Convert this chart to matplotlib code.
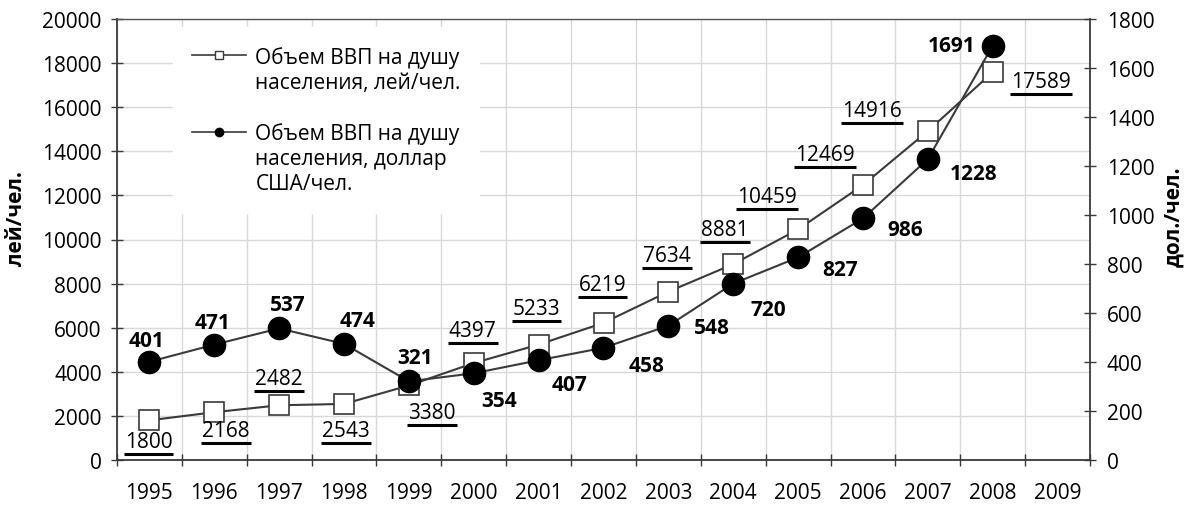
import numpy as np
import matplotlib
matplotlib.use("Agg")
import matplotlib.pyplot as plt
from matplotlib.lines import Line2D

plt.rcParams['font.family'] = ['Open Sans', 'DejaVu Sans']
plt.rcParams['font.size'] = 15

# données
years = ['1995', '1996', '1997', '1998', '1999', '2000', '2001', '2002',
         '2003', '2004', '2005', '2006', '2007', '2008', '2009']
gdp_lei = [1800, 2168, 2482, 2543, 3380, 4397, 5233, 6219, 7634, 8881,
           10459, 12469, 14916, 17589]
gdp_usd = [401, 471, 537, 474, 321, 354, 407, 458, 548, 720, 827, 986,
           1228, 1691]
label_lei = 'Объем ВВП на душу\nнаселения, лей/чел.'
label_usd = 'Объем ВВП на душу\nнаселения, доллар\nСША/чел.'

# décalage des étiquettes (pixels)
off_lei = [(-1, -20), (12, -17), (0, 28), (2, -25), (23, -26), (-1, 34), (-2, 38),
           (-1, 40), (-1, 38), (-8, 36), (-31, 34), (-38, 32), (-56, 22), (48, -8)]
off_usd = [(-3, 23), (-2, 24), (9, 25), (14, 25), (6, 25), (25, -26), (31, -23),
           (43, -16), (44, 0), (35, -24), (42, -11), (42, -10), (46, -13), (-41, 2)]

dark = '#3a3a3a'
fig = plt.figure(figsize=(11.89, 5.06), dpi=100)
ax1 = fig.add_axes([117/1189, 1-461/506, 973/1189, 441/506])
ax2 = ax1.twinx()

x = np.arange(len(gdp_lei))
ax1.plot(x, gdp_lei, color=dark, lw=1.5, marker='s', ms=15, mfc='white',
         mec=dark, mew=1.2, zorder=3)
ax2.plot(x, gdp_usd, color=dark, lw=1.5, marker='o', ms=16, mfc='black',
         mec='black', zorder=3)

ax1.set_xlim(-0.5, len(years) - 0.5)
ax1.set_ylim(0, 20000)
ax2.set_ylim(0, 1800)
ax1.set_yticks(np.arange(0, 20001, 2000))
ax2.set_yticks(np.arange(0, 1801, 200))
ax1.set_xticks(np.arange(len(years)))
ax1.set_xticklabels(years)
ax1.set_xticks(np.arange(-0.5, len(years), 1), minor=True)

ax1.tick_params(axis='x', which='major', length=0, pad=16)
ax1.tick_params(axis='x', which='minor', direction='inout', length=9, width=1, color=dark)
ax1.tick_params(axis='y', direction='inout', length=8, width=1, pad=7, color=dark)
ax2.tick_params(axis='y', direction='inout', length=8, width=1, pad=8, color=dark)

ax1.grid(True, which='major', axis='y', color='#d9d9d9', lw=1)
ax1.grid(True, which='minor', axis='x', color='#d9d9d9', lw=1)
ax1.set_axisbelow(True)

for sp in ['left', 'bottom']:
    ax1.spines[sp].set_color(dark)
    ax1.spines[sp].set_linewidth(1.3)
ax1.spines['top'].set_color('#555555')
ax1.spines['top'].set_linewidth(1)
ax1.spines['right'].set_visible(False)
for sp in ['left', 'top', 'bottom']:
    ax2.spines[sp].set_visible(False)
ax2.spines['right'].set_color(dark)
ax2.spines['right'].set_linewidth(1.3)

fig.text(17/1189, 1-219/506, 'лей/чел.', rotation=90, ha='center', va='center',
         fontweight='bold')
fig.text(1174/1189, 1-217/506, 'дол./чел.', rotation=90, ha='center', va='center',
         fontweight='bold')

# étiquettes
lei_texts = []
for i, v in enumerate(gdp_lei):
    dx, dy = off_lei[i]
    t = ax1.annotate(str(v), (x[i], v), xytext=(dx, dy - 7), textcoords='offset pixels',
                     ha='center', va='baseline', zorder=4)
    lei_texts.append(t)
for i, v in enumerate(gdp_usd):
    dx, dy = off_usd[i]
    ax2.annotate(str(v), (x[i], v), xytext=(dx, dy - 7), textcoords='offset pixels',
                 ha='center', va='baseline', fontweight='bold', zorder=4)

# légende
blank = Line2D([], [], color='none')
h_lei = Line2D([], [], color=dark, lw=1.2, marker='s', ms=6, mfc='white', mec=dark, mew=1)
h_usd = Line2D([], [], color=dark, lw=1.2, marker='o', ms=6, mfc='black', mec='black')
l1 = label_lei.split('\n')
l2 = label_usd.split('\n')
handles = [h_lei, blank, blank, h_usd, blank, blank]
labels = [l1[0], l1[1], ' ', l2[0], l2[1], l2[2]]
leg = ax2.legend(handles, labels, loc='upper left', bbox_to_anchor=(56/973, 1-8/441),
                 borderaxespad=0, frameon=True, framealpha=1, fancybox=False,
                 edgecolor='white', facecolor='white', handlelength=2.6,
                 handletextpad=0.45, labelspacing=0.2, borderpad=0.9, fontsize=15)
leg.set_zorder(5)

# soulignement des valeurs en lei
fig.canvas.draw()
r = fig.canvas.get_renderer()
for t in lei_texts:
    bb = t.get_window_extent(r)
    x0, y0 = ax1.transData.transform(t.xy)
    ox, oy = t.xyann
    yb = y0 + oy - 7
    fig.add_artist(Line2D([bb.x0 - 1, bb.x1 + 1], [yb, yb], transform=None,
                          color='black', lw=2.2, solid_capstyle='butt', zorder=6))

fig.savefig('out.png', dpi=100)
